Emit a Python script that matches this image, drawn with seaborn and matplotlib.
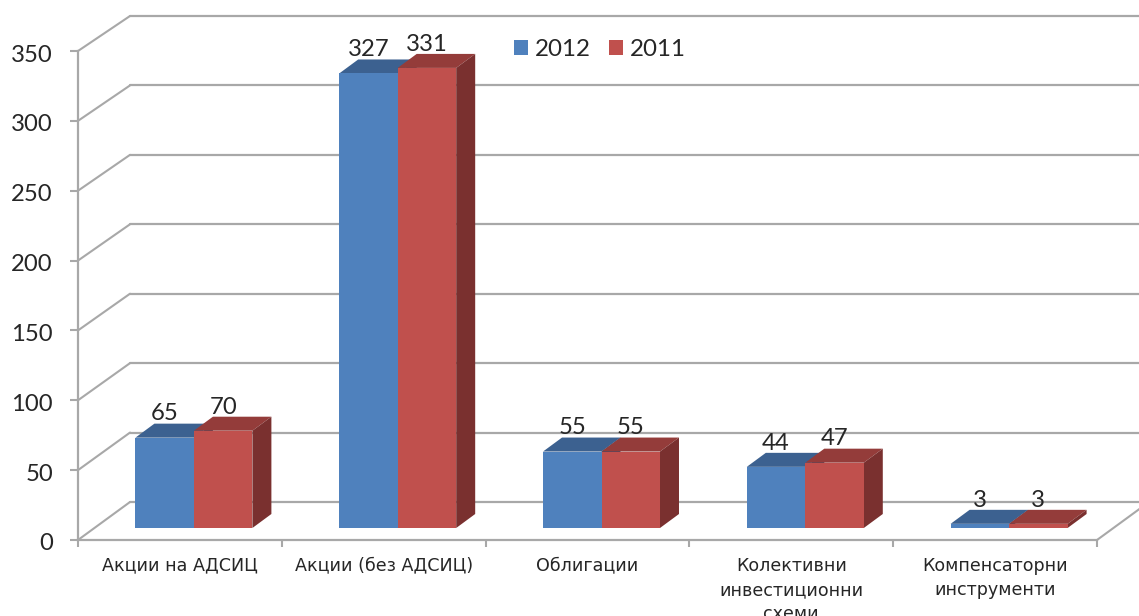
import matplotlib
matplotlib.use('Agg')
import matplotlib.pyplot as plt
import pandas as pd
import seaborn as sns
from matplotlib.patches import ConnectionPatch, Polygon
from matplotlib.transforms import ScaledTranslation

# datos
categorias = ['Акции на АДСИЦ', 'Акции (без АДСИЦ)', 'Облигации',
              'Колективни\nинвестиционни\nсхеми', 'Компенсаторни\nинструменти']
valores_2012 = [65, 327, 55, 44, 3]
valores_2011 = [70, 331, 55, 47, 3]
marcas_y = [0, 50, 100, 150, 200, 250, 300, 350]

ANCHO, ALTO = 1139, 616
GRIS = '#a8a8a8'
TEXTO = '#262626'
colores = {'2012': '#4f81bd', '2011': '#c0504d'}
techo = {'2012': '#3c6190', '2011': '#943c3a'}
lateral = {'2012': '#2f4d73', '2011': '#7a302f'}


def eje_pixeles(fig, x0, y0, x1, y1, z):
    return fig.add_axes([x0 / ANCHO, 1 - y1 / ALTO, (x1 - x0) / ANCHO, (y1 - y0) / ALTO],
                        facecolor='none', zorder=z)


sns.set_style('white')
fig = plt.figure(figsize=(ANCHO / 100, ALTO / 100), dpi=100)

# pared del fondo: solo las lineas de la rejilla
ax_fondo = eje_pixeles(fig, 130, 16, 1149, 502, 0)
ax_frente = eje_pixeles(fig, 78, 51, 1097, 540, 1)
ax = eje_pixeles(fig, 92, 41.5, 1111, 528, 2)

for eje in (ax_fondo, ax_frente, ax):
    eje.set_xlim(-0.5, 4.5)
    eje.set_ylim(0, 350)

ax_fondo.set_axis_off()
for v in marcas_y:
    ax_fondo.axhline(v, color=GRIS, lw=1.6, clip_on=False)
    ax_fondo.add_artist(ConnectionPatch((-0.5, v), (-0.5, v), 'data', 'data', axesA=ax_frente,
                                        axesB=ax_fondo, color=GRIS, lw=1.5))
ax_fondo.add_artist(ConnectionPatch((4.5, 0), (4.5, 0), 'data', 'data', axesA=ax_frente,
                                    axesB=ax_fondo, color=GRIS, lw=1.5))

# ejes delanteros
sns.despine(ax=ax_frente, right=True, top=True)
for lado in ('left', 'bottom'):
    ax_frente.spines[lado].set_color(GRIS)
    ax_frente.spines[lado].set_linewidth(1.6)
ax_frente.set_yticks(marcas_y)
ax_frente.set_yticklabels(marcas_y, family='Lato', fontsize=17.2, color=TEXTO, va='center_baseline')
ax_frente.set_xticks([-0.5, 0.5, 1.5, 2.5, 3.5, 4.5])
ax_frente.set_xticklabels([])
ax_frente.set_xticks(range(5), categorias, minor=True, family='DejaVu Sans', fontsize=12.6,
                      color=TEXTO, linespacing=1.45, va='top')
ax_frente.tick_params(axis='y', left=True, length=6, width=1.5, color=GRIS, pad=12)
ax_frente.tick_params(axis='x', which='major', bottom=True, length=5, width=1.5, color=GRIS)
ax_frente.tick_params(axis='x', which='minor', bottom=False, length=0, pad=12)

# bajar un poco las etiquetas del eje y
bajar = ScaledTranslation(0, -2 / 100, fig.dpi_scale_trans)
for etiqueta in ax_frente.get_yticklabels():
    etiqueta.set_transform(etiqueta.get_transform() + bajar)

# barras
tabla = pd.DataFrame({
    'categoria': categorias * 2,
    'valor': valores_2012 + valores_2011,
    'serie': ['2012'] * 5 + ['2011'] * 5,
})
sns.barplot(data=tabla, x='categoria', y='valor', hue='serie', hue_order=['2012', '2011'],
            palette=colores, width=0.574, gap=0, saturation=1, linewidth=0, ax=ax)
ax.set_xlim(-0.5, 4.5)
ax.set_ylim(0, 350)
ax.set_axis_off()

# caras superiores y laterales a partir de cada barra
prof_x = 19 / 203.8
prof_y = 14 / 1.39
for cont, serie in zip(ax.containers, ['2012', '2011']):
    for barra in cont:
        x0, x1 = barra.get_x(), barra.get_x() + barra.get_width()
        h = barra.get_height()
        ax.add_patch(Polygon([(x0, h), (x1, h), (x1 + prof_x, h + prof_y), (x0 + prof_x, h + prof_y)],
                             color=techo[serie], lw=0, zorder=0.6, clip_on=False))
        ax.add_patch(Polygon([(x1, 0), (x1 + prof_x, prof_y), (x1 + prof_x, h + prof_y), (x1, h)],
                             color=lateral[serie], lw=0, zorder=0.6, clip_on=False))
    ax.bar_label(cont, padding=9.5, family='Lato', fontsize=17.2, color=TEXTO)

sns.move_legend(ax, 'center left', bbox_to_anchor=(0.393, 0.983), ncol=2, frameon=False, title=None,
                prop={'family': 'Lato', 'size': 17.4}, handlelength=0.56, handleheight=0.56,
                handletextpad=0.28, columnspacing=0.78, labelcolor=TEXTO)

fig.savefig('out.png', dpi=100)
